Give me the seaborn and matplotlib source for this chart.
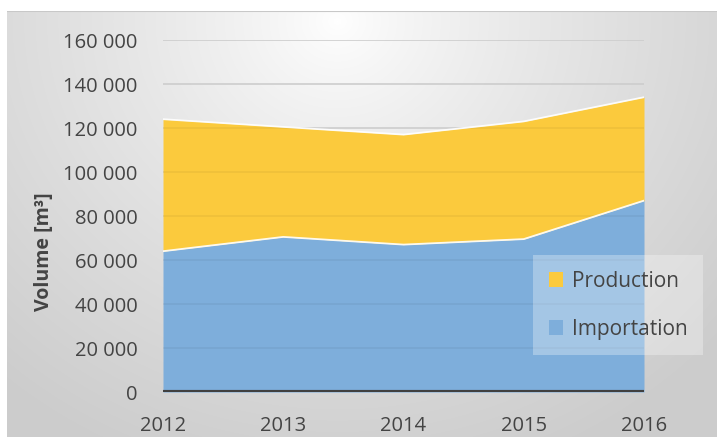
import numpy as np
import pandas as pd
import seaborn as sns
import matplotlib
matplotlib.use("Agg")
import matplotlib.pyplot as plt
from matplotlib.patches import Patch
from matplotlib.ticker import FuncFormatter, MultipleLocator

# Annual volumes (m³)
years = [2012, 2013, 2014, 2015, 2016]
importation = [64000, 70500, 67000, 69500, 87000]
production = [60000, 50000, 50000, 53500, 47000]
series_names = ["Importation", "Production"]
series_colors = ["#7eaedb", "#fbca3d"]

df = pd.DataFrame({"year": years, "Importation": importation, "Production": production})
df["total"] = df["Importation"] + df["Production"]

sns.set_theme(style="white")
plt.rcParams["font.family"] = ["Open Sans", "DejaVu Sans"]
text_color = "#444444"
fs = 14.5

W, H = 718, 437
fig = plt.figure(figsize=(W / 100, H / 100), dpi=100)
fig.patch.set_facecolor("white")

# Chart-area background: soft radial gradient inside a thin frame
bg = fig.add_axes([7 / W, 0, (W - 8) / W, (H - 11) / H])
bg.set_axis_off()
gy, gx = np.mgrid[0:H - 11, 0:W - 8]
d = np.sqrt(((gx - 330) / 520.0) ** 2 + ((gy - 10) / 480.0) ** 2)
shade = 1.0 - 0.2 * np.clip(d, 0, 1) ** 0.8
bg.imshow(np.dstack([shade] * 3), aspect="auto", extent=[0, 1, 0, 1], origin="upper")
bg.plot([0, 1], [1, 1], color="#c8c8c8", lw=1.5, transform=bg.transAxes)
bg.set_xlim(0, 1)
bg.set_ylim(0, 1)

ax = fig.add_axes([163 / W, 1 - 392 / H, (644 - 163) / W, (392 - 40) / H])
ax.patch.set_alpha(0)

# Horizontal gridlines
ax.set_ylim(0, 160000)
ax.yaxis.set_major_locator(MultipleLocator(20000))
ax.grid(axis="y", color="#d9d9d9", lw=1.2)
ax.grid(axis="x", visible=False)
ax.set_axisbelow(True)

# Stacked areas
ax.fill_between(df["year"], 0, df["Importation"], color=series_colors[0], lw=0, zorder=2)
ax.fill_between(df["year"], df["Importation"], df["total"], color=series_colors[1], lw=0, zorder=2)
# faint gridlines showing through the fills
for v in range(20000, 160001, 20000):
    ax.axhline(v, color="#000000", alpha=0.05, lw=1.2, zorder=2.5)
sns.lineplot(x=df["year"], y=df["Importation"], ax=ax, color="white", lw=1.3, alpha=0.9, zorder=3)
sns.lineplot(x=df["year"], y=df["total"], ax=ax, color="white", lw=1.3, alpha=0.9, zorder=3)

ax.axhline(0, color="#404040", lw=3, zorder=4)
ax.set_xlim(years[0], years[-1])
ax.set_xticks(years)
ax.set_xticklabels([str(y) for y in years])

ax.yaxis.set_major_formatter(FuncFormatter(lambda v, p: f"{int(v):,}".replace(",", " ")))
ax.tick_params(axis="y", length=0, pad=18.5, labelsize=fs, labelcolor=text_color)
ax.tick_params(axis="x", length=0, pad=17, labelsize=fs, labelcolor=text_color)
for s in ax.spines.values():
    s.set_visible(False)

ax.set_xlabel("")
ax.set_ylabel("Volume [m³]", fontsize=14, fontweight="bold", color=text_color)
ax.yaxis.set_label_coords(-0.227, 0.398)

handles = [Patch(facecolor=series_colors[1], edgecolor="none"),
           Patch(facecolor=series_colors[0], edgecolor="none")]
leg = fig.legend(handles, ["Production", "Importation"],
                 loc="upper left", bbox_to_anchor=(533 / W, 1 - 255 / H),
                 borderaxespad=0, frameon=True, fontsize=15, labelcolor=text_color,
                 handlelength=0.7, handleheight=0.7, handletextpad=0.4,
                 labelspacing=1.3, borderpad=0.75, fancybox=False)
leg.get_frame().set_facecolor("white")
leg.get_frame().set_alpha(0.3)
leg.get_frame().set_edgecolor("none")

fig.savefig("out.png", dpi=100)
